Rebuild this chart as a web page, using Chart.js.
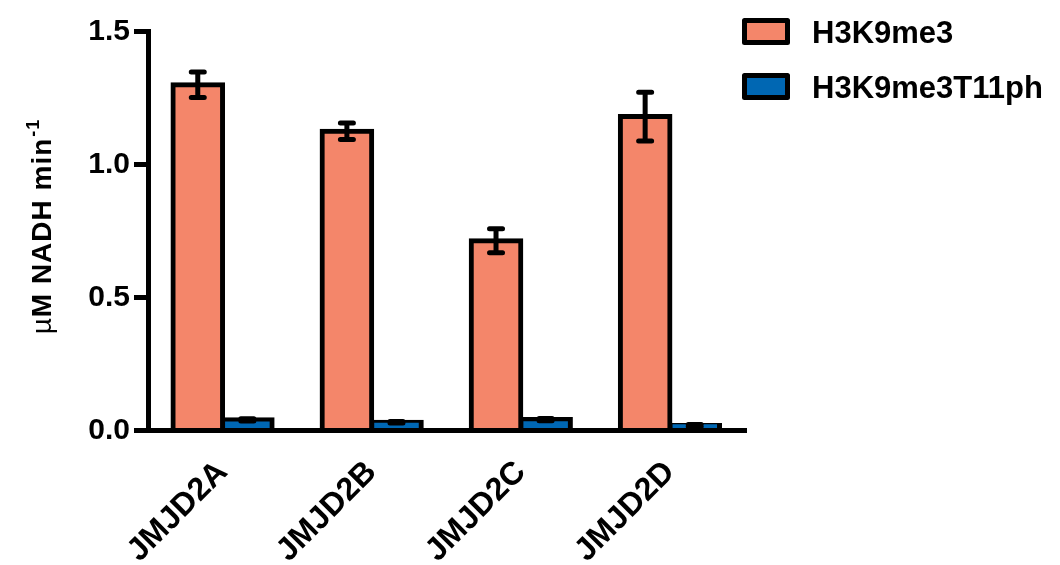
<!DOCTYPE html>
<html>
<head>
<meta charset="utf-8">
<title>Demethylase activity</title>
<script src="https://cdn.jsdelivr.net/npm/chart.js@4.4.1/dist/chart.umd.min.js"></script>
<style>
  html, body { margin: 0; padding: 0; background: #ffffff; }
  #wrap { width: 1060px; height: 565px; position: relative; }
</style>
</head>
<body>
<div id="wrap"><canvas id="chart"></canvas></div>
<script>
// Enzymes on the x axis
const categories = ['JMJD2A', 'JMJD2B', 'JMJD2C', 'JMJD2D'];
// Substrate peptides (one bar series each)
const seriesNames = ['H3K9me3', 'H3K9me3T11ph'];
// Rates, µM NADH per minute, with error half-widths
const h3k9me3 = [1.30, 1.125, 0.713, 1.18];
const h3k9me3Err = [0.048, 0.031, 0.045, 0.092];
const h3k9me3T11ph = [0.040, 0.031, 0.041, 0.019];
const h3k9me3T11phErr = [0.004, 0.003, 0.004, 0.004];
// Y axis ticks
const yTickValues = [0, 0.5, 1.0, 1.5];
const yTickLabels = ['0.0', '0.5', '1.0', '1.5'];
// Y axis title (main part and superscript)
const yTitleMain = 'M NADH min';
const yTitleMu = 'µ';
const yTitleSup = '-1';

const seriesColors = ['#F4866A', '#0067B3'];
const errorSets = [h3k9me3Err, h3k9me3T11phErr];
const FONT = '"Liberation Sans", Arial, Helvetica, sans-serif';

// Vertical error bars with round caps
const errorBars = {
  id: 'errorBars',
  afterDatasetsDraw(chart) {
    const ctx = chart.ctx;
    const y = chart.scales.y;
    chart.data.datasets.forEach((ds, di) => {
      const meta = chart.getDatasetMeta(di);
      meta.data.forEach((bar, i) => {
        const v = ds.data[i], e = errorSets[di][i];
        const yt = y.getPixelForValue(v + e);
        const yb = y.getPixelForValue(v - e);
        const half = 6.5;
        ctx.save();
        ctx.strokeStyle = '#000';
        ctx.lineWidth = 5;
        ctx.lineCap = 'round';
        ctx.beginPath();
        ctx.moveTo(bar.x, yt); ctx.lineTo(bar.x, yb);
        ctx.moveTo(bar.x - half, yt); ctx.lineTo(bar.x + half, yt);
        ctx.moveTo(bar.x - half, yb); ctx.lineTo(bar.x + half, yb);
        ctx.stroke();
        ctx.restore();
      });
    });
  }
};

// Y axis title with a superscript exponent
const yTitlePlugin = {
  id: 'yTitle',
  afterDraw(chart) {
    const ctx = chart.ctx;
    ctx.save();
    ctx.translate(51, 227);
    ctx.rotate(-Math.PI / 2);
    ctx.fillStyle = '#000';
    ctx.textBaseline = 'alphabetic';
    ctx.letterSpacing = '1px';
    const muFont = '28px ' + FONT;
    const mainFont = 'bold 28px ' + FONT;
    const supFont = 'bold 18px ' + FONT;
    ctx.font = muFont; const wMu = ctx.measureText(yTitleMu).width;
    ctx.font = mainFont; const wMain = ctx.measureText(yTitleMain).width;
    ctx.font = supFont; const wSup = ctx.measureText(yTitleSup).width;
    let x = -(wMu + wMain + wSup) / 2;
    ctx.textAlign = 'left';
    ctx.font = muFont; ctx.fillText(yTitleMu, x, 0); x += wMu;
    ctx.font = mainFont; ctx.fillText(yTitleMain, x, 0); x += wMain;
    ctx.font = supFont; ctx.fillText(yTitleSup, x + 1, -12);
    ctx.restore();
  }
};

// Legend at the top right: outlined swatch + bold label
const legendPlugin = {
  id: 'sideLegend',
  afterDraw(chart) {
    const ctx = chart.ctx;
    ctx.save();
    chart.data.datasets.forEach((ds, i) => {
      const cy = 31.5 + i * 55;
      ctx.fillStyle = ds.backgroundColor;
      ctx.strokeStyle = '#000';
      ctx.lineWidth = 5;
      ctx.lineJoin = 'round';
      ctx.beginPath();
      ctx.rect(744.5, cy - 11, 43, 22);
      ctx.fill();
      ctx.stroke();
      ctx.fillStyle = '#000';
      ctx.font = 'bold 31px ' + FONT;
      ctx.textAlign = 'left';
      ctx.textBaseline = 'alphabetic';
      ctx.fillText(ds.label, 812, cy + 11);
    });
    ctx.restore();
  }
};

new Chart(document.getElementById('chart'), {
  type: 'bar',
  data: {
    labels: categories,
    datasets: [
      {
        label: seriesNames[0],
        data: h3k9me3,
        backgroundColor: seriesColors[0],
        borderColor: '#000',
        borderWidth: 5,
        borderSkipped: 'start',
        inflateAmount: 2.5,
        categoryPercentage: 0.665,
        barPercentage: 1.0
      },
      {
        label: seriesNames[1],
        data: h3k9me3T11ph,
        backgroundColor: seriesColors[1],
        borderColor: '#000',
        borderWidth: 5,
        borderSkipped: 'start',
        inflateAmount: 2.5,
        categoryPercentage: 0.665,
        barPercentage: 1.0
      }
    ]
  },
  options: {
    responsive: true,
    maintainAspectRatio: false,
    animation: false,
    devicePixelRatio: 1,
    layout: { padding: { top: 31.5, right: 315.5, left: 0, bottom: 0 } },
    plugins: {
      legend: { display: false },
      title: { display: false },
      tooltip: { enabled: false }
    },
    scales: {
      x: {
        z: 1,
        grid: { display: true, drawOnChartArea: false, drawTicks: false, lineWidth: 5, color: '#000' },
        border: { display: true, color: '#000', width: 5 },
        ticks: {
          color: '#000',
          font: { family: FONT, size: 32, weight: 'bold' },
          minRotation: 45,
          maxRotation: 45,
          autoSkip: false,
          padding: 23,
          labelOffset: 0
        },
        afterFit(scale) { scale.height = 134.5; }
      },
      y: {
        min: 0,
        max: 1.5,
        afterBuildTicks(scale) { scale.ticks = yTickValues.map(v => ({ value: v })); },
        grid: {
          display: true, drawOnChartArea: false, drawTicks: true,
          tickLength: 14, tickWidth: 5, tickColor: '#000', lineWidth: 5, color: '#000'
        },
        border: { display: true, color: '#000', width: 5 },
        ticks: {
          color: '#000',
          padding: 4,
          font: { family: FONT, size: 30, weight: 'bold' },
          callback(value) {
            const idx = yTickValues.indexOf(value);
            return idx >= 0 ? yTickLabels[idx] : '';
          }
        },
        afterFit(scale) { scale.width = 148; }
      }
    }
  },
  plugins: [errorBars, yTitlePlugin, legendPlugin]
});
</script>
</body>
</html>
